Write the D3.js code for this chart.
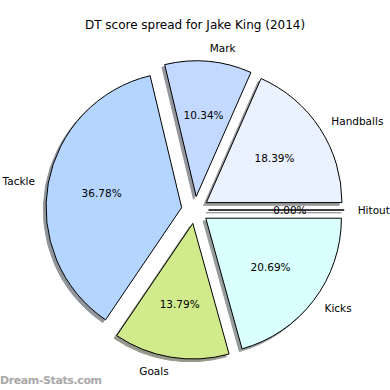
<!DOCTYPE html>
<html>
<head>
<meta charset="utf-8" />
<script src="https://cdn.jsdelivr.net/npm/d3@7"></script>
<style>
  body { margin: 0; background: #fff; }
  text { font-family: "DejaVu Sans", sans-serif; }
</style>
</head>
<body>
<script>
// slice data, counterclockwise from 3 o'clock (matplotlib order)
var categories = ["Handballs", "Mark", "Tackle", "Goals", "Kicks", "Hitout"];
var values = [16, 9, 32, 12, 18, 0];
var colors = ["#eaf1ff", "#c4d9ff", "#b4d5ff", "#d1eb8c", "#d9ffff", "#fefefe"];
var title = "DT score spread for Jake King (2014)";

var width = 390, height = 390;
var cx = 195, cy = 210;
var R = 135.6;

// unit radius -> pixels
var r = d3.scaleLinear().domain([0, 1]).range([0, R]);

var svg = d3.select("body").append("svg")
    .attr("width", width)
    .attr("height", height);

var total = d3.sum(values);

// d3 angles: 0 at 12 o'clock clockwise; start at 3 o'clock going ccw
var pie = d3.pie().sort(null)
    .startAngle(Math.PI / 2)
    .endAngle(Math.PI / 2 - 2 * Math.PI);

var arcs = pie(values).map(function (d, i) {
  var mid = (d.startAngle + d.endAngle) / 2;
  d.name = categories[i];
  d.color = colors[i];
  d.ux = Math.sin(mid);
  d.uy = -Math.cos(mid);
  // explode every slice by 0.1 radius
  d.ox = r(0.1) * d.ux;
  d.oy = r(0.1) * d.uy;
  return d;
});

var arc = d3.arc().innerRadius(0).outerRadius(r(1));

function shade(c) {
  var k = d3.rgb(c);
  return d3.rgb(k.r * 0.3, k.g * 0.3, k.b * 0.3).toString();
}

var g = svg.append("g").attr("transform", "translate(" + cx + "," + cy + ")");

// shadows behind all wedges
g.selectAll("path.shadow")
  .data(arcs)
  .enter()
  .append("path")
  .attr("class", "shadow")
  .attr("d", arc)
  .attr("transform", function (d) {
    return "translate(" + (d.ox - r(0.02)) + "," + (d.oy + r(0.02)) + ")";
  })
  .style("fill", function (d) { return shade(d.color); })
  .style("stroke", function (d) { return shade(d.color); })
  .style("opacity", 0.55);

g.selectAll("path.wedge")
  .data(arcs)
  .enter()
  .append("path")
  .attr("class", "wedge")
  .attr("d", arc)
  .attr("transform", function (d) { return "translate(" + d.ox + "," + d.oy + ")"; })
  .style("fill", function (d) { return d.color; })
  .style("stroke", "#000")
  .style("stroke-width", 1)
  .style("stroke-linejoin", "round");

// category labels at 1.1 radius from exploded centre
g.selectAll("text.label")
  .data(arcs)
  .enter()
  .append("text")
  .attr("class", "label")
  .attr("x", function (d) { return d.ox + r(1.1) * d.ux; })
  .attr("y", function (d) { return d.oy + r(1.1) * d.uy; })
  .attr("text-anchor", function (d) { return d.ox + r(1.1) * d.ux > 0 ? "start" : "end"; })
  .attr("dominant-baseline", "central")
  .style("font-size", "10.5px")
  .text(function (d) { return d.name; });

// percentages at 0.6 radius
g.selectAll("text.pct")
  .data(arcs)
  .enter()
  .append("text")
  .attr("class", "pct")
  .attr("x", function (d) { return d.ox + r(0.6) * d.ux; })
  .attr("y", function (d) { return d.oy + r(0.6) * d.uy; })
  .attr("text-anchor", "middle")
  .attr("dominant-baseline", "central")
  .style("font-size", "10.5px")
  .text(function (d) { return (d.value / total * 100).toFixed(2) + "%"; });

svg.append("text")
  .attr("x", cx)
  .attr("y", 25)
  .attr("text-anchor", "middle")
  .attr("dominant-baseline", "central")
  .style("font-size", "12px")
  .text(title);

svg.append("text")
  .attr("x", 0)
  .attr("y", 384)
  .style("font-size", "11px")
  .style("font-weight", "bold")
  .style("fill", "#a8a8a8")
  .attr("textLength", 102)
  .text("Dream-Stats.com");
</script>
</body>
</html>
